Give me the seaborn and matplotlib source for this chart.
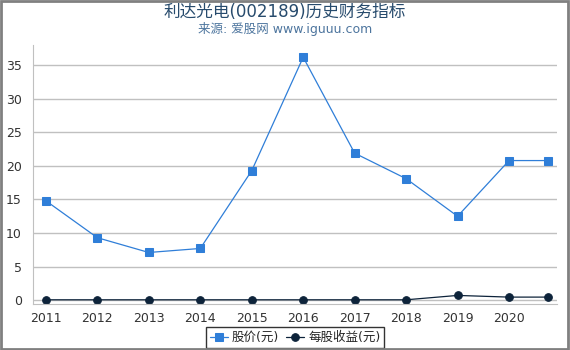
import numpy as np
import pandas as pd
import matplotlib
matplotlib.use("Agg")
import matplotlib.pyplot as plt
import seaborn as sns
from matplotlib.patches import Rectangle

years = [2011, 2012, 2013, 2014, 2015, 2016, 2017, 2018, 2019, 2020, 2020.75]
price = [14.8, 9.3, 7.1, 7.7, 19.3, 36.2, 21.9, 18.1, 12.5, 20.8, 20.8]
eps = [0.05, 0.05, 0.05, 0.05, 0.05, 0.05, 0.05, 0.05, 0.7, 0.45, 0.45]
xticks = [2011, 2012, 2013, 2014, 2015, 2016, 2017, 2018, 2019, 2020]
yticks = [0, 5, 10, 15, 20, 25, 30, 35]

sns.set_style("white")
plt.rcParams['font.family'] = ['DejaVu Sans', 'Noto Sans CJK SC']

df = pd.DataFrame({"year": years, "price": price, "eps": eps})

fig = plt.figure(figsize=(5.7, 3.5), dpi=100)
ax = fig.add_axes([0.058, 0.131, 0.919, 0.74])

sns.lineplot(data=df, x="year", y="price", ax=ax, color="#2f7ed8", marker="s",
             markersize=5.5, linewidth=0.9, markeredgecolor="#2f7ed8", label="股价(元)")
sns.lineplot(data=df, x="year", y="eps", ax=ax, color="#0d233a", marker="o",
             markersize=5.5, linewidth=0.9, markeredgecolor="#0d233a", label="每股收益(元)")

ax.set_xlim(2010.75, 2020.93)
ax.set_ylim(-0.6, 38)
ax.set_xticks(xticks)
ax.set_yticks(yticks)
ax.set_xlabel("")
ax.set_ylabel("")
ax.grid(axis="y", color="#c0c0c0", linewidth=1)
ax.set_axisbelow(True)
for s in ["top", "right"]:
    ax.spines[s].set_visible(False)
ax.spines["left"].set_color("#c0c0c0")
ax.spines["bottom"].set_color("#c0c0c0")
ax.tick_params(axis="both", labelsize=9, colors="#333333", width=1)
ax.tick_params(axis="x", color="#c0c0c0", length=4, pad=2)
ax.tick_params(axis="y", color="#c0c0c0", length=3, pad=5)

leg = ax.legend(loc="upper center", bbox_to_anchor=(0.5, -0.089), ncol=2, frameon=True,
                fontsize=9, fancybox=False, handlelength=1.5, handletextpad=0.3,
                columnspacing=0.5, borderpad=0.3, borderaxespad=0)
leg.get_frame().set_edgecolor("black")
leg.get_frame().set_linewidth(1)

fig.text(0.5, 0.965, "利达光电(002189)历史财务指标", ha="center", va="center",
         fontsize=12, color="#274b6d")
fig.text(0.5, 0.918, "来源: 爱股网 www.iguuu.com", ha="center", va="center",
         fontsize=9, color="#4d759e")

fig.patches.append(Rectangle((0.001, 0.003), 0.996, 0.994, transform=fig.transFigure,
                             fill=False, edgecolor="#808080", linewidth=2))

fig.savefig("out.png", dpi=100)
